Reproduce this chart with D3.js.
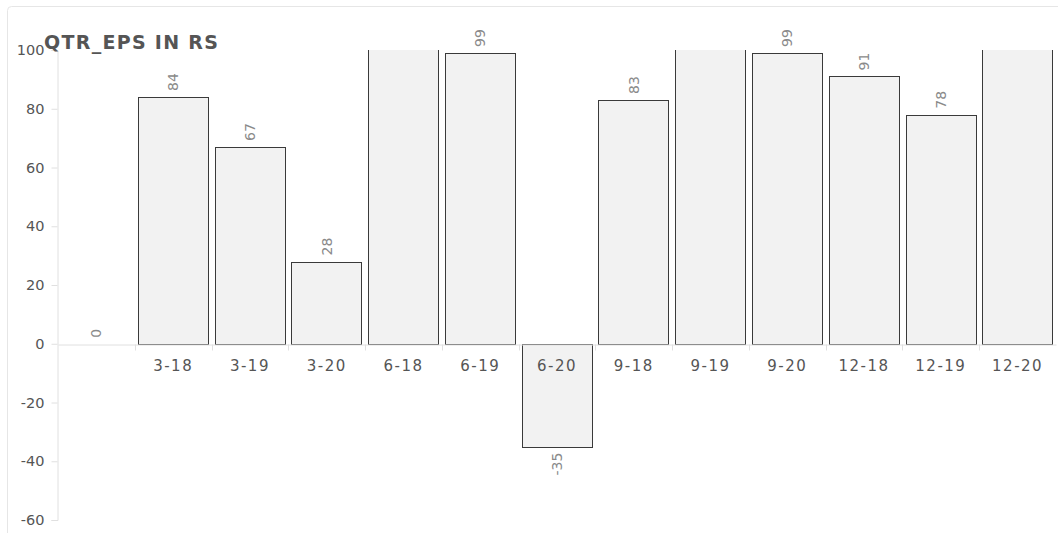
<!DOCTYPE html>
<html>
<head>
<meta charset="utf-8">
<script src="https://cdn.jsdelivr.net/npm/d3@7"></script>
<style>
  html, body { margin: 0; padding: 0; background: #fff; }
  svg { display: block; font-family: "DejaVu Sans", Verdana, sans-serif; }
</style>
</head>
<body>
<svg id="chart" width="1058" height="533"></svg>
<script>
const categories = ["", "3-18", "3-19", "3-20", "6-18", "6-19", "6-20", "9-18", "9-19", "9-20", "12-18", "12-19", "12-20"];
const values = [0, 84, 67, 28, 125, 99, -35, 83, 130, 99, 91, 78, 140];
const yTicks = [-60, -40, -20, 0, 20, 40, 60, 80, 100];
const title = "QTR_EPS IN RS";

(function () {
const svg = d3.select("#chart");
const W = 1058, H = 533;
const mLeft = 58, mRight = 1056, mTop = 50, mBottom = 520;
const yMin = -60, yMax = 100;

// outer frame
svg.append("rect").attr("x", 7.5).attr("y", 6.5).attr("width", W).attr("height", H)
  .attr("fill", "none").attr("stroke", "#e6e6e6").attr("rx", 4);

const x = d3.scaleBand().domain(categories).range([mLeft, mRight]).paddingInner(0.08).paddingOuter(0.04);
const y = d3.scaleLinear().domain([yMin, yMax]).range([mBottom, mTop]);

svg.append("defs").append("clipPath").attr("id", "plotclip")
  .append("rect").attr("x", mLeft).attr("y", mTop).attr("width", mRight - mLeft).attr("height", mBottom - mTop);

// y axis
const yAxis = svg.append("g").attr("transform", `translate(${mLeft - 0.5},0)`)
  .call(d3.axisLeft(y).tickValues(yTicks).tickFormat(d => String(d)).tickSize(6).tickPadding(7));
yAxis.select(".domain").attr("stroke", "#e0e0e0");
yAxis.selectAll(".tick line").attr("stroke", "#e0e0e0");
yAxis.selectAll(".tick text").attr("fill", "#555").attr("font-size", 14.5).attr("font-family", "DejaVu Sans, Verdana, sans-serif");

// bars
const data = categories.map((c, i) => ({ c, v: values[i] }));
svg.append("g").attr("clip-path", "url(#plotclip)")
  .selectAll("rect").data(data.filter(d => d.v !== 0)).join("rect")
  .attr("x", d => Math.round(x(d.c)) + 0.5)
  .attr("width", Math.round(x.bandwidth()) - 1)
  .attr("y", d => Math.round(y(Math.max(0, d.v))) + 0.5)
  .attr("height", d => Math.abs(Math.round(y(d.v)) - Math.round(y(0))))
  .attr("fill", "#f2f2f2").attr("stroke", "#3a3a3a").attr("stroke-width", 1);

// x axis
const xAxis = svg.append("g").attr("transform", `translate(0,${Math.round(y(0)) + 0.5})`)
  .call(d3.axisBottom(x).tickSize(0).tickPadding(16));
xAxis.select(".domain").attr("stroke", "#e0e0e0");
xAxis.selectAll(".tick text").attr("fill", "#555").attr("font-size", 15)
  .attr("letter-spacing", "1.5px").attr("font-family", "DejaVu Sans, Verdana, sans-serif");
// boundary ticks
const bounds = categories.slice(1).map(c => x(c) - x.step() * x.paddingInner() / 2);
xAxis.selectAll("line.bound").data(bounds).join("line").attr("class", "bound")
  .attr("x1", d => Math.round(d) + 0.5).attr("x2", d => Math.round(d) + 0.5)
  .attr("y1", 0).attr("y2", 6).attr("stroke", "#e0e0e0");

// value labels (only for values within the visible axis range)
svg.append("g").selectAll("text").data(data.filter(d => d.v <= yMax && d.v >= yMin)).join("text")
  .attr("transform", d => {
    const cx = x(d.c) + x.bandwidth() / 2;
    const yy = d.v >= 0 ? y(d.v) - 6 : y(d.v) + 6;
    return `translate(${cx},${yy}) rotate(-90)`;
  })
  .attr("text-anchor", d => d.v >= 0 ? "start" : "end")
  .attr("dy", "0.35em")
  .attr("font-size", 14).attr("fill", "#8a8a8a")
  .text(d => String(d.v));

// title
svg.append("text").attr("x", 44).attr("y", 49).attr("font-size", 19).attr("font-weight", "bold")
  .attr("letter-spacing", "1.3px").attr("fill", "#555").text(title);
})();
</script>
</body>
</html>
